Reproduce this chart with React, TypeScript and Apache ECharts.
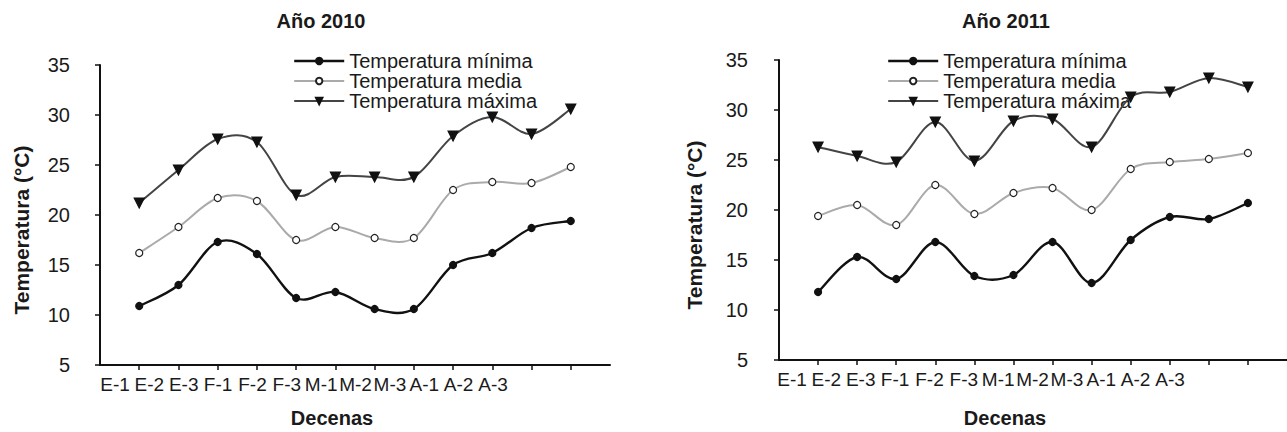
import React, { useEffect, useRef } from "react";
import * as echarts from "echarts";

const categories = ["E-1", "E-2", "E-3", "F-1", "F-2", "F-3", "M-1", "M-2", "M-3", "A-1", "A-2", "A-3"];
const seriesNames = ["Temperatura mínima", "Temperatura media", "Temperatura máxima"];

const min2010 = [10.9, 13.0, 17.3, 16.1, 11.7, 12.3, 10.6, 10.6, 15.0, 16.2, 18.7, 19.4];
const med2010 = [16.2, 18.8, 21.7, 21.4, 17.5, 18.8, 17.7, 17.7, 22.5, 23.3, 23.2, 24.8];
const max2010 = [21.2, 24.5, 27.6, 27.3, 22.0, 23.8, 23.8, 23.8, 27.9, 29.8, 28.1, 30.6];

const min2011 = [11.8, 15.3, 13.1, 16.8, 13.4, 13.5, 16.8, 12.7, 17.0, 19.3, 19.1, 20.7];
const med2011 = [19.4, 20.5, 18.5, 22.5, 19.6, 21.7, 22.2, 20.0, 24.1, 24.8, 25.1, 25.7];
const max2011 = [26.3, 25.4, 24.8, 28.8, 24.9, 28.9, 29.1, 26.3, 31.3, 31.8, 33.2, 32.3];

const yTicks = [5, 10, 15, 20, 25, 30, 35];

const FONT = "'Liberation Sans', Arial, sans-serif";
const TXT = "#1a1a1a";

const STYLES = [
  { line: "#111111", width: 2.4, symbol: "circle", size: 7, fill: "#111111", border: "#111111", rotate: 0 },
  { line: "#aaaaaa", width: 2, symbol: "circle", size: 7, fill: "#ffffff", border: "#222222", rotate: 0 },
  { line: "#444444", width: 2, symbol: "triangle", size: 10, fill: "#111111", border: "#111111", rotate: 180 },
];

function smoothPath(pts: number[][]): string {
  const n = pts.length;
  let d = `M${pts[0][0]},${pts[0][1]}`;
  for (let i = 0; i < n - 1; i++) {
    const p0 = pts[Math.max(0, i - 1)];
    const p1 = pts[i];
    const p2 = pts[i + 1];
    const p3 = pts[Math.min(n - 1, i + 2)];
    const c1x = p1[0] + (p2[0] - p0[0]) / 6;
    const c1y = p1[1] + (p2[1] - p0[1]) / 6;
    const c2x = p2[0] - (p3[0] - p1[0]) / 6;
    const c2y = p2[1] - (p3[1] - p1[1]) / 6;
    d += ` C${c1x},${c1y} ${c2x},${c2y} ${p2[0]},${p2[1]}`;
  }
  return d;
}

function buildSeries(values: number[][], axisIdx: number) {
  const out: any[] = [];
  values.forEach((vals, k) => {
    const st = STYLES[k];
    const data = vals.map((v, i) => [i + 1, v]);
    out.push({
      name: "curve-" + axisIdx + "-" + k,
      type: "custom",
      xAxisIndex: axisIdx,
      yAxisIndex: axisIdx,
      silent: true,
      z: 2 + k,
      data,
      renderItem: (params: any, api: any) => {
        if (params.dataIndex !== 0) return null;
        const pts = data.map((d) => api.coord(d));
        return {
          type: "path",
          shape: { pathData: smoothPath(pts) },
          style: { stroke: st.line, lineWidth: st.width, fill: "none" },
        };
      },
    });
    out.push({
      name: seriesNames[k],
      type: "line",
      xAxisIndex: axisIdx,
      yAxisIndex: axisIdx,
      data,
      symbol: st.symbol,
      symbolSize: st.size,
      symbolRotate: st.rotate,
      showSymbol: true,
      lineStyle: { color: st.line, width: 0, opacity: 0 },
      itemStyle: { color: st.fill, borderColor: st.border, borderWidth: 1.2 },
      z: 6 + k,
    });
  });
  return out;
}

function mainX(gridIndex: number) {
  return {
    gridIndex,
    type: "value",
    min: 0,
    max: 13,
    interval: 1,
    axisLine: { show: true, lineStyle: { color: "#111", width: 2 } },
    axisTick: {
      show: true,
      length: 5,
      inside: false,
      customValues: categories.map((_, i) => i + 1),
      lineStyle: { color: "#111", width: 1.5 },
    },
    axisLabel: { show: false },
    splitLine: { show: false },
  };
}

function labelX(gridIndex: number) {
  return {
    gridIndex,
    type: "category",
    data: categories,
    boundaryGap: false,
    axisLine: { show: false },
    axisTick: { show: false },
    axisLabel: { fontSize: 19, color: TXT, margin: 10, interval: 0, fontFamily: FONT },
    splitLine: { show: false },
  };
}

function mainY(gridIndex: number, margin: number, gap: number) {
  return {
    gridIndex,
    type: "value",
    min: yTicks[0],
    max: yTicks[yTicks.length - 1],
    interval: 5,
    axisLine: { show: true, lineStyle: { color: "#111", width: 2 } },
    axisTick: { show: true, length: 5, lineStyle: { color: "#111", width: 1.5 } },
    axisLabel: { fontSize: 20, color: TXT, margin, fontFamily: FONT },
    splitLine: { show: false },
    name: "Temperatura (°C)",
    nameLocation: "middle",
    nameGap: gap,
    nameTextStyle: { fontSize: 21, fontWeight: "bold", color: TXT, fontFamily: FONT, padding: [0, 30, 0, 0] },
  };
}

function legend(left: number, top: number) {
  return {
    orient: "vertical",
    left,
    top,
    padding: 0,
    itemGap: 0,
    itemWidth: 50,
    itemHeight: 8,
    data: seriesNames.map((name, k) => ({
      name,
      lineStyle: { color: STYLES[k].line, width: STYLES[k].width, opacity: 1 },
    })),
    textStyle: { fontSize: 20, color: TXT, fontFamily: FONT, lineHeight: 18 },
  };
}

function title(text: string, left: number, top: number) {
  return {
    text,
    left,
    top,
    textAlign: "center",
    padding: 0,
    textStyle: { fontSize: 20, fontWeight: "bold", color: TXT, fontFamily: FONT },
  };
}

export default function App() {
  const ref = useRef<HTMLDivElement>(null);
  useEffect(() => {
    if (!ref.current) return;
    const chart = echarts.init(ref.current, undefined, { renderer: "svg" });
    chart.setOption({
      animation: false,
      backgroundColor: "#ffffff",
      textStyle: { fontFamily: FONT },
      title: [
        title("Año 2010", 321, 11),
        title("Año 2011", 1006, 11),
        title("Decenas", 332, 408),
        title("Decenas", 1005, 408),
      ],
      legend: [legend(293, 51), legend(887, 51)],
      grid: [
        { left: 100, top: 65, width: 510, height: 300 },
        { left: 115, top: 65, width: 378, height: 300 },
        { left: 779, top: 60, width: 508, height: 300 },
        { left: 792, top: 60, width: 378, height: 300 },
      ],
      xAxis: [mainX(0), labelX(1), mainX(2), labelX(3)],
      yAxis: [
        mainY(0, 30, 68),
        { gridIndex: 1, type: "value", show: false },
        mainY(2, 31, 74),
        { gridIndex: 3, type: "value", show: false },
      ],
      series: [
        ...buildSeries([min2010, med2010, max2010], 0),
        ...buildSeries([min2011, med2011, max2011], 2),
      ],
    });
    return () => chart.dispose();
  }, []);
  return (
    <div
      ref={ref}
      style={{ position: "absolute", left: 0, top: 0, width: 1287, height: 432, background: "#fff" }}
    />
  );
}
